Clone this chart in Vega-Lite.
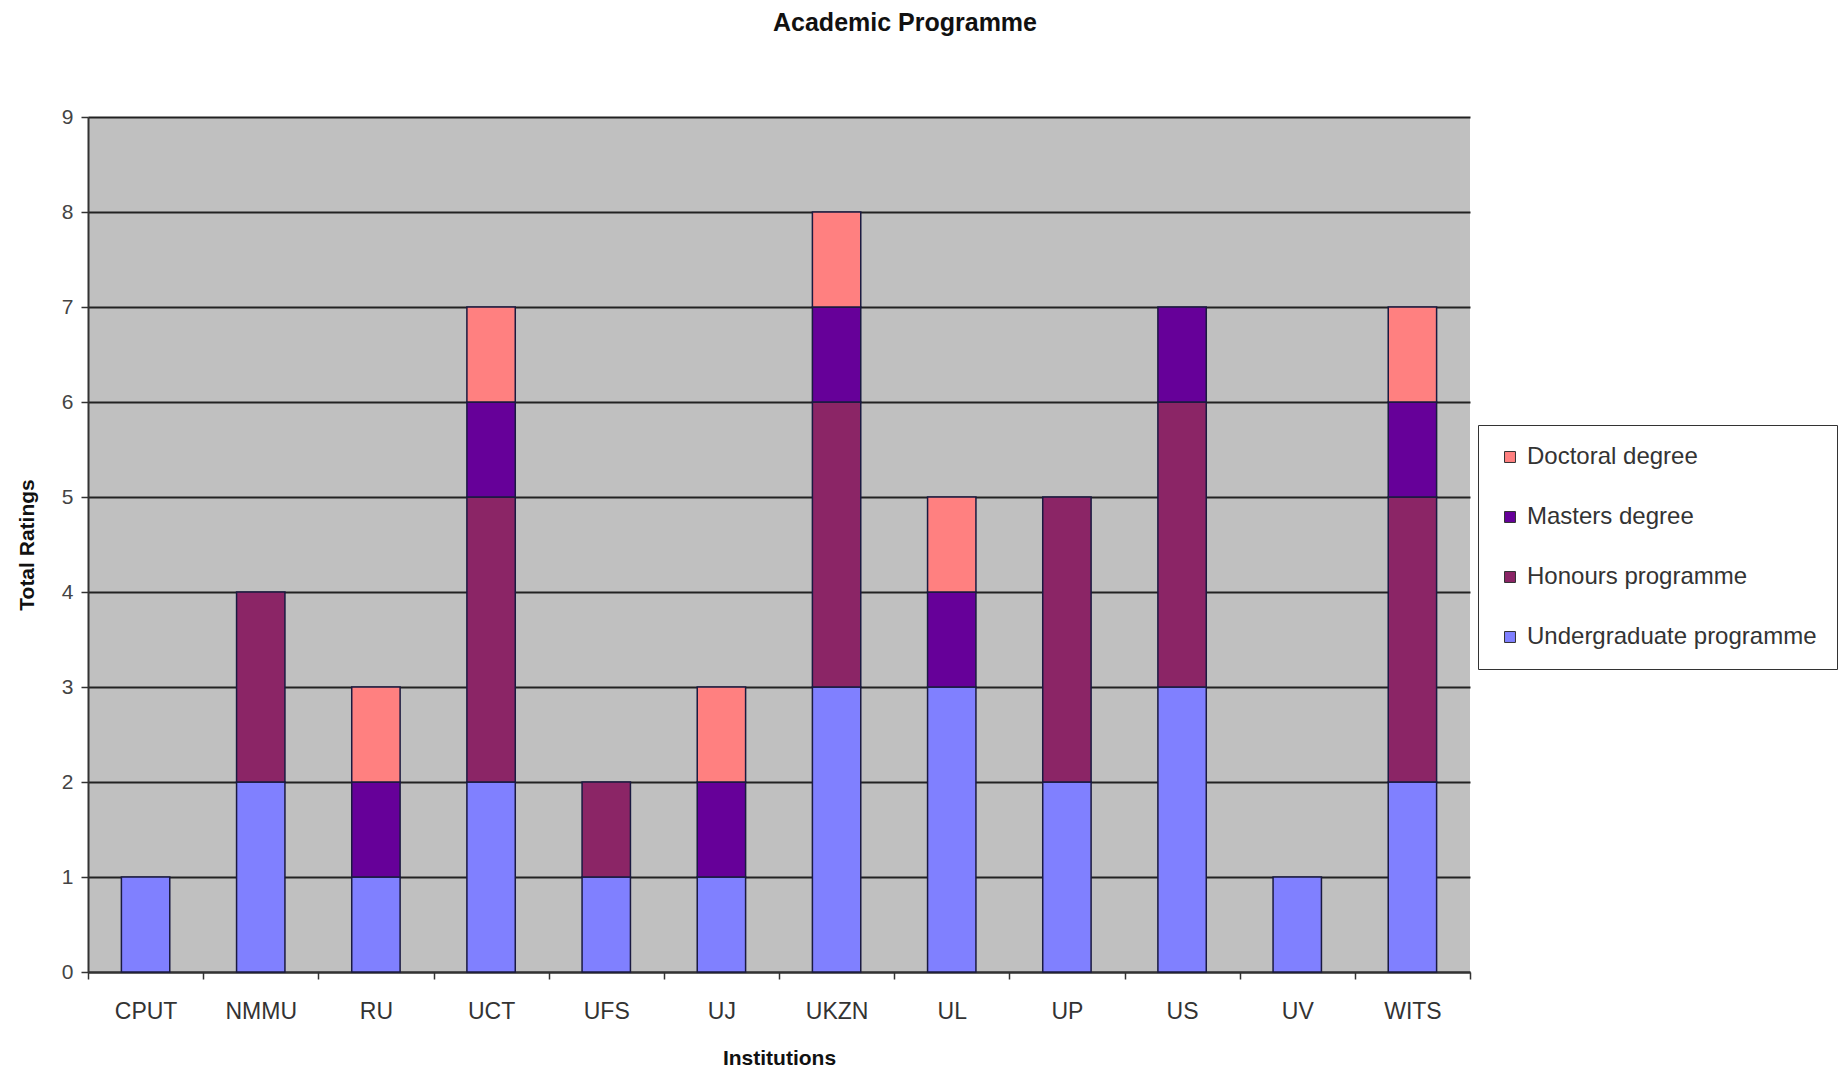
{
  "$schema": "https://vega.github.io/schema/vega-lite/v6.json",
  "autosize": {"type": "none"},
  "width": 1382,
  "height": 855,
  "padding": {"left": 88, "top": 117, "right": 369, "bottom": 97},
  "background": "white",
  "title": {"text": "Academic Programme", "font": "Liberation Sans", "fontSize": 25, "fontWeight": "bold", "color": "#111111", "anchor": "middle", "dx": 126, "offset": 70},
  "data": {"values": [
    {"inst": "CPUT", "series": "Undergraduate programme", "rank": 1, "value": 1},
    {"inst": "NMMU", "series": "Undergraduate programme", "rank": 1, "value": 2},
    {"inst": "NMMU", "series": "Honours programme", "rank": 2, "value": 2},
    {"inst": "RU", "series": "Undergraduate programme", "rank": 1, "value": 1},
    {"inst": "RU", "series": "Masters degree", "rank": 3, "value": 1},
    {"inst": "RU", "series": "Doctoral degree", "rank": 4, "value": 1},
    {"inst": "UCT", "series": "Undergraduate programme", "rank": 1, "value": 2},
    {"inst": "UCT", "series": "Honours programme", "rank": 2, "value": 3},
    {"inst": "UCT", "series": "Masters degree", "rank": 3, "value": 1},
    {"inst": "UCT", "series": "Doctoral degree", "rank": 4, "value": 1},
    {"inst": "UFS", "series": "Undergraduate programme", "rank": 1, "value": 1},
    {"inst": "UFS", "series": "Honours programme", "rank": 2, "value": 1},
    {"inst": "UJ", "series": "Undergraduate programme", "rank": 1, "value": 1},
    {"inst": "UJ", "series": "Masters degree", "rank": 3, "value": 1},
    {"inst": "UJ", "series": "Doctoral degree", "rank": 4, "value": 1},
    {"inst": "UKZN", "series": "Undergraduate programme", "rank": 1, "value": 3},
    {"inst": "UKZN", "series": "Honours programme", "rank": 2, "value": 3},
    {"inst": "UKZN", "series": "Masters degree", "rank": 3, "value": 1},
    {"inst": "UKZN", "series": "Doctoral degree", "rank": 4, "value": 1},
    {"inst": "UL", "series": "Undergraduate programme", "rank": 1, "value": 3},
    {"inst": "UL", "series": "Masters degree", "rank": 3, "value": 1},
    {"inst": "UL", "series": "Doctoral degree", "rank": 4, "value": 1},
    {"inst": "UP", "series": "Undergraduate programme", "rank": 1, "value": 2},
    {"inst": "UP", "series": "Honours programme", "rank": 2, "value": 3},
    {"inst": "US", "series": "Undergraduate programme", "rank": 1, "value": 3},
    {"inst": "US", "series": "Honours programme", "rank": 2, "value": 3},
    {"inst": "US", "series": "Masters degree", "rank": 3, "value": 1},
    {"inst": "UV", "series": "Undergraduate programme", "rank": 1, "value": 1},
    {"inst": "WITS", "series": "Undergraduate programme", "rank": 1, "value": 2},
    {"inst": "WITS", "series": "Honours programme", "rank": 2, "value": 3},
    {"inst": "WITS", "series": "Masters degree", "rank": 3, "value": 1},
    {"inst": "WITS", "series": "Doctoral degree", "rank": 4, "value": 1}
  ]},
  "mark": {"type": "bar", "width": {"band": 0.42}, "stroke": "#1a1a40", "strokeWidth": 1.5},
  "encoding": {
    "x": {"field": "inst", "type": "nominal", "sort": null,
      "scale": {"paddingInner": 0, "paddingOuter": 0},
      "axis": {"title": "Institutions", "titleFont": "Liberation Sans", "titleFontSize": 21, "titleFontWeight": "bold", "titleColor": "#111111", "titlePadding": 24,
        "labelAngle": 0, "labelFont": "Liberation Sans", "labelFontSize": 23, "labelColor": "#333333", "labelPadding": 21,
        "tickBand": "extent", "tickSize": 7, "tickColor": "#333333", "tickWidth": 1.5, "domainColor": "#333333", "domainWidth": 2, "grid": false}},
    "y": {"field": "value", "type": "quantitative", "aggregate": "sum", "stack": "zero",
      "scale": {"domain": [0, 9], "nice": false},
      "axis": {"title": "Total Ratings", "titleFont": "Liberation Sans", "titleFontSize": 21, "titleFontWeight": "bold", "titleColor": "#111111", "titlePadding": 24,
        "values": [0,1,2,3,4,5,6,7,8,9], "labelFont": "Liberation Sans", "labelFontSize": 21, "labelColor": "#444444", "labelPadding": 8,
        "tickSize": 7, "tickColor": "#333333", "tickWidth": 1.5, "domainColor": "#333333", "domainWidth": 2,
        "grid": true, "gridColor": "#222222", "gridWidth": 2, "gridOpacity": 1}},
    "color": {"field": "series", "type": "nominal",
      "scale": {"domain": ["Doctoral degree", "Masters degree", "Honours programme", "Undergraduate programme"],
        "range": ["#FF8080", "#660099", "#8B2566", "#8080FF"]},
      "legend": {"title": null, "orient": "none", "legendX": 1390, "legendY": 308,
        "fillColor": "white", "strokeColor": "#333333", "padding": 20,
        "labelFont": "Liberation Sans", "labelFontSize": 24, "labelColor": "#333333", "labelLimit": 400,
        "symbolType": "square", "symbolSize": 120, "symbolStrokeColor": "#333333", "symbolStrokeWidth": 1,
        "rowPadding": 36, "labelOffset": 5}},
    "order": {"field": "rank", "type": "quantitative", "sort": "ascending"}
  },
  "config": {"view": {"fill": "#C0C0C0", "stroke": null}}
}
